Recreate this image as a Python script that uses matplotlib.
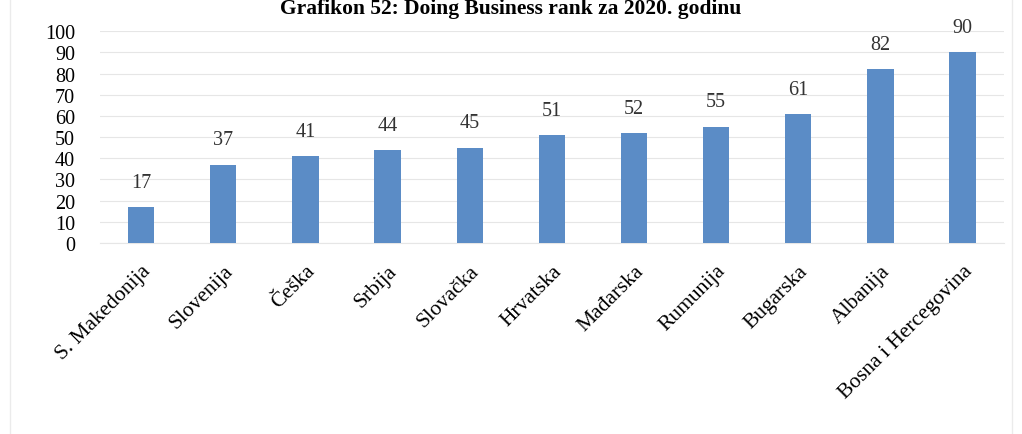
import matplotlib
matplotlib.use("Agg")
import matplotlib.pyplot as plt
from matplotlib.patches import Rectangle

categories = ["S. Makedonija", "Slovenija", "Češka", "Srbija", "Slovačka", "Hrvatska",
              "Mađarska", "Rumunija", "Bugarska", "Albanija", "Bosna i Hercegovina"]
values = [17, 37, 41, 44, 45, 51, 52, 55, 61, 82, 90]
yticks = [0, 10, 20, 30, 40, 50, 60, 70, 80, 90, 100]
title = "Grafikon 52: Doing Business rank za 2020. godinu"

plt.rcParams['font.family'] = ['Liberation Serif', 'DejaVu Serif']

fig = plt.figure(figsize=(10.22, 4.35), dpi=100)
ax = fig.add_axes([0.098, 0.439, 0.884, 0.487])

x = list(range(len(categories)))
bars = ax.bar(x, values, width=0.32, color='#5b8cc6', zorder=3)
for xi, v in zip(x, values):
    ax.annotate(str(v), (xi, v), xytext=(0, 11), textcoords='offset points',
                ha='center', va='bottom', fontsize=14.5, color='#333333')

ax.set_ylim(0, 100)
ax.set_xlim(-0.5, len(categories) - 0.5)
ax.set_yticks(yticks)
ax.set_yticklabels([str(t) for t in yticks], fontsize=14.5)
ax.set_xticks(x)
ax.set_xticklabels(categories, rotation=45, ha='right', rotation_mode='anchor', fontsize=15.5)
ax.tick_params(axis='x', length=0, pad=13)
ax.tick_params(axis='y', length=0, pad=18)
ax.grid(axis='y', color='#e6e6e6', linewidth=0.8, zorder=0)
for s in ['top', 'right', 'left']:
    ax.spines[s].set_visible(False)
ax.spines['bottom'].set_color('#e6e6e6')

fig.text(0.5, 0.968, title, ha='center', va='baseline', fontsize=15.5, fontweight='bold')
fig.patches.append(Rectangle((0.01, -0.01), 0.98, 1.02, transform=fig.transFigure,
                             fill=False, edgecolor='#ebebeb', linewidth=1))

fig.savefig("out.png", dpi=100)
